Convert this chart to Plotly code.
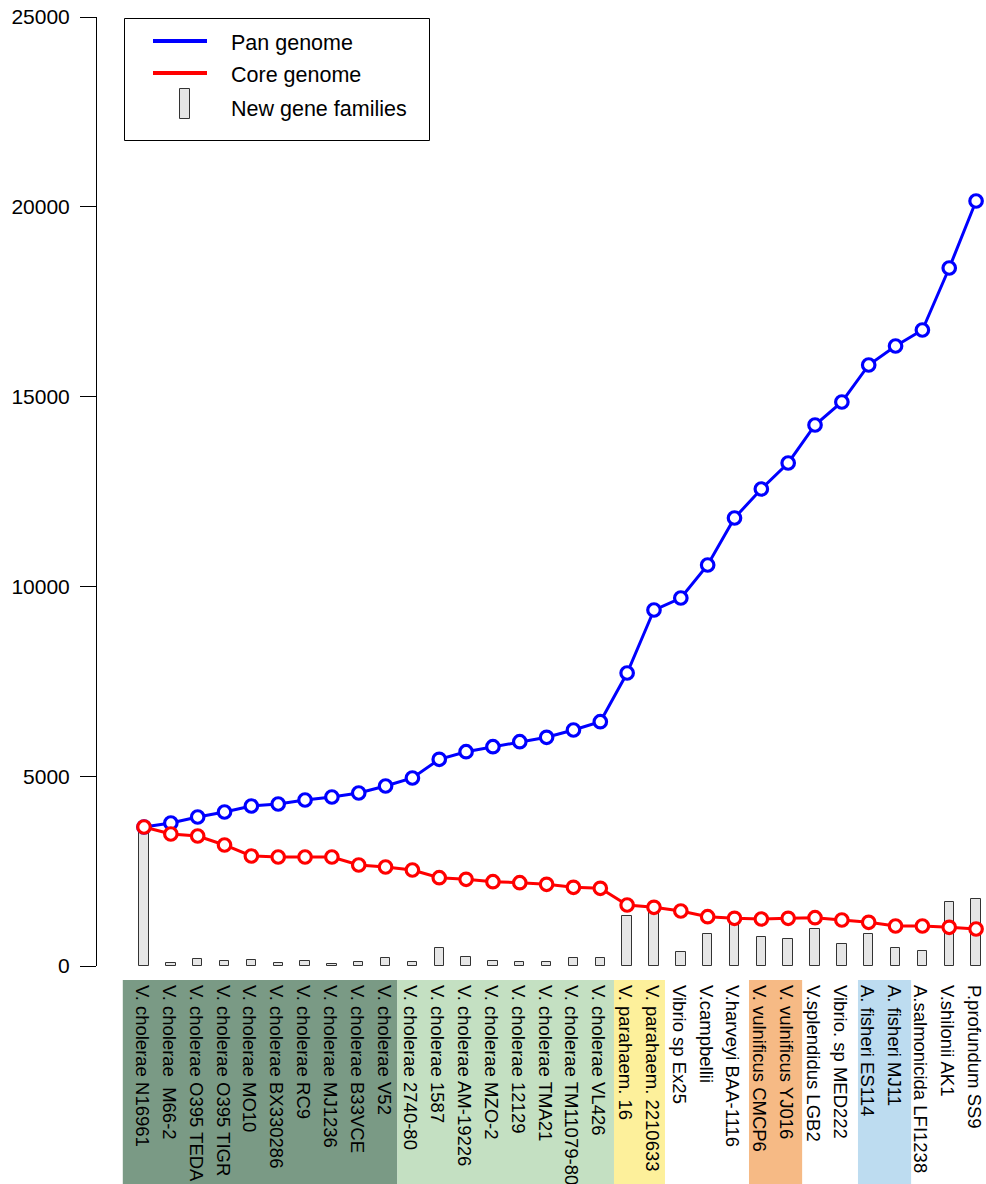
import plotly.graph_objects as go

# Genomes in the order they are added to the pan/core computation
genomes = [
    "V. cholerae N16961", "V. cholerae \u00a0M66-2", "V. cholerae O395 TEDA",
    "V. cholerae O395 TIGR", "V. cholerae MO10", "V. cholerae BX330286",
    "V. cholerae RC9", "V. cholerae MJ1236", "V. cholerae B33VCE",
    "V. cholerae V52", "V. cholerae 2740-80", "V. cholerae 1587",
    "V. cholerae AM-19226", "V. cholerae MZO-2", "V. cholerae 12129",
    "V. cholerae TMA21", "V. cholerae TM11079-80", "V. cholerae VL426",
    "V. parahaem. 16", "V. parahaem. 2210633", "Vibrio sp Ex25",
    "V.campbellii", "V.harveyi BAA-1116", "V. vulnificus CMCP6",
    "V. vulnificus YJ016", "V.splendidus LGB2", "Vibrio. sp MED222",
    "A. fisheri ES114", "A. fisheri MJ11", "A.salmonicida LFI1238",
    "V.shilonii AK1", "P.profundum SS9",
]

pan_genome = [
    3662, 3767, 3925, 4057, 4215, 4268, 4373, 4452, 4557, 4742,
    4953, 5445, 5645, 5777, 5909, 6025, 6217, 6436, 7719, 9378,
    9694, 10564, 11802, 12566, 13251, 14252, 14858, 15833, 16333, 16754,
    18388, 20153,
]

core_genome = [
    3662, 3477, 3425, 3188, 2898, 2871, 2871, 2871, 2661, 2608,
    2529, 2326, 2284, 2221, 2194, 2152, 2073, 2047, 1607, 1546,
    1449, 1299, 1257, 1238, 1257, 1272, 1212, 1151, 1054, 1054,
    1019, 975,
]

new_families = [
    3662, 80, 175, 140, 150, 80, 130, 60, 115, 220,
    115, 465, 230, 130, 115, 115, 210, 210, 1325, 1600,
    360, 845, 1240, 755, 710, 965, 580, 850, 480, 405,
    1685, 1775,
]

y_ticks = [0, 5000, 10000, 15000, 20000, 25000]

# Species groups highlighted behind the labels: (left edge, right edge, colour)
# edges are given in category-index units
groups = [
    (-0.79, 9.44, "#7a9a85"),
    (9.44, 17.51, "#c4e0c2"),
    (17.51, 19.41, "#fdf09b"),
    (22.54, 24.52, "#f6ba85"),
    (26.60, 28.58, "#bddcf0"),
]

FONT = "Liberation Sans, Arial, Helvetica, sans-serif"
W, H = 986, 1184
ML, MR, MT, MB = 97, 0, 17, 218
PW, PH = W - ML - MR, H - MT - MB


def px_x(p):
    return (p - ML) / PW


def px_y(p):
    return (H - MB - p) / PH


idx = list(range(len(genomes)))

fig = go.Figure()

fig.add_trace(go.Bar(
    x=idx, y=new_families, width=0.35,
    marker=dict(color="#e6e6e6", line=dict(color="#333333", width=1)),
    name="New gene families", showlegend=False,
))

fig.add_trace(go.Scatter(
    x=idx, y=pan_genome, mode="lines+markers",
    line=dict(color="#0000ff", width=3),
    marker=dict(symbol="circle", size=12.5, color="white",
                line=dict(color="#0000ff", width=3.2)),
    name="Pan genome", showlegend=False, cliponaxis=False,
))

fig.add_trace(go.Scatter(
    x=idx, y=core_genome, mode="lines+markers",
    line=dict(color="#ff0000", width=3),
    marker=dict(symbol="circle", size=12.5, color="white",
                line=dict(color="#ff0000", width=3.2)),
    name="Core genome", showlegend=False, cliponaxis=False,
))

shapes = []
for x0, x1, col in groups:
    shapes.append(dict(
        type="rect", xref="x", yref="paper",
        x0=x0, x1=x1, y0=px_y(1184), y1=px_y(980),
        fillcolor=col, line=dict(width=0), layer="below",
    ))

# Legend box
shapes.append(dict(
    type="rect", xref="paper", yref="paper",
    x0=px_x(124.5), x1=px_x(429.5), y0=px_y(140.5), y1=px_y(18.5),
    line=dict(color="black", width=1), fillcolor="white", layer="above",
))
legend_rows = [("Pan genome", "#0000ff", 41), ("Core genome", "#ff0000", 73)]
annotations = []
for label, col, yy in legend_rows:
    shapes.append(dict(
        type="line", xref="paper", yref="paper",
        x0=px_x(153), x1=px_x(207), y0=px_y(yy), y1=px_y(yy),
        line=dict(color=col, width=4), layer="above",
    ))
    annotations.append(dict(
        xref="paper", yref="paper", x=px_x(229), y=px_y(yy + 1.5),
        text=label, showarrow=False, xanchor="left", yanchor="middle",
        font=dict(family=FONT, size=21.5, color="black"),
    ))
shapes.append(dict(
    type="rect", xref="paper", yref="paper",
    x0=px_x(179.5), x1=px_x(189.5), y0=px_y(118.5), y1=px_y(88.5),
    fillcolor="#e6e6e6", line=dict(color="#333333", width=1), layer="above",
))
annotations.append(dict(
    xref="paper", yref="paper", x=px_x(229), y=px_y(108.5),
    text="New gene families", showarrow=False, xanchor="left", yanchor="middle",
    font=dict(family=FONT, size=21.5, color="black"),
))

fig.update_layout(
    width=W, height=H, autosize=False,
    margin=dict(l=ML, r=MR, t=MT, b=MB, pad=0),
    paper_bgcolor="white", plot_bgcolor="white",
    showlegend=False, bargap=0,
    shapes=shapes, annotations=annotations,
    font=dict(family=FONT, color="black"),
)

fig.update_xaxes(
    type="linear", range=[-1.751, 31.37],
    tickmode="array", tickvals=idx, ticktext=genomes,
    tickangle=90, ticks="", showline=False, showgrid=False, zeroline=False,
    tickfont=dict(family=FONT, size=18.5, color="black"),
    ticklabelstandoff=18, ticklabelshift=-2,
)

fig.update_yaxes(
    range=[0, 25000], tickmode="array", tickvals=y_ticks, tickformat="d",
    ticks="outside", ticklen=16, tickwidth=1, tickcolor="black",
    showline=True, linecolor="black", linewidth=1,
    showgrid=False, zeroline=False,
    tickfont=dict(family=FONT, size=21, color="black"),
    ticklabelstandoff=6,
)

fig.write_html("out.html")
